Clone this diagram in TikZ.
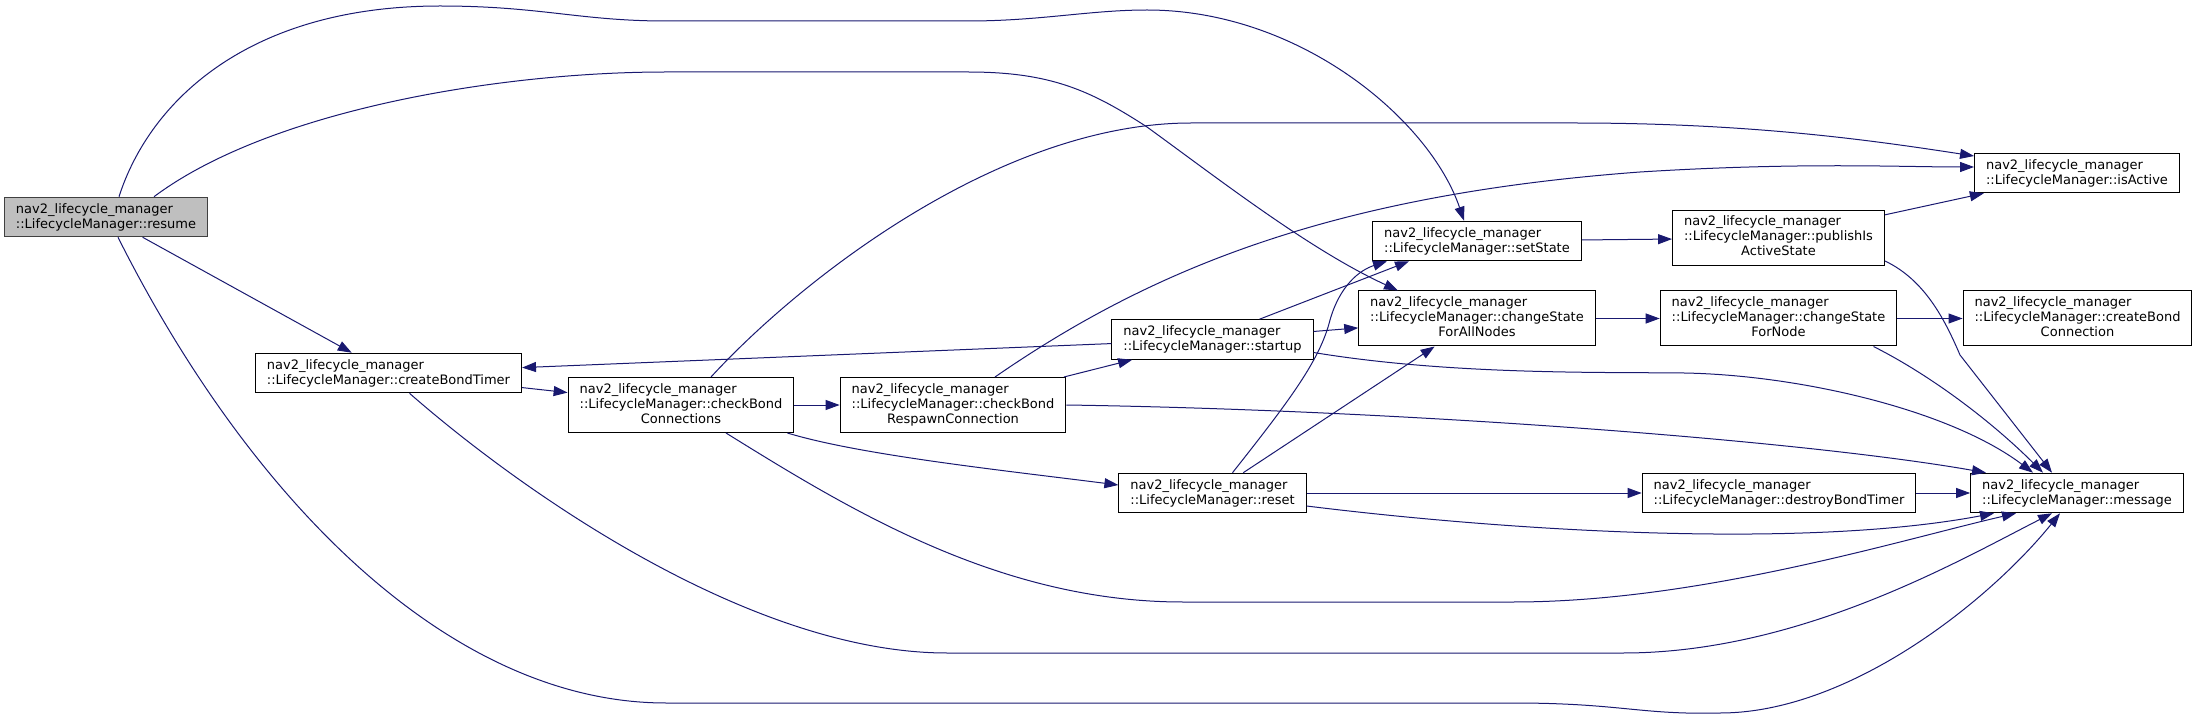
\documentclass[tikz,border=0pt]{standalone}
\usepackage{fontspec}
\setmainfont{DejaVu Sans}
\usetikzlibrary{arrows.meta}
\definecolor{edgeblue}{HTML}{191970}

\begin{document}
\begin{tikzpicture}[x=1pt,y=-1pt,
  fnbox/.style={draw=black,fill=white,line width=1pt,align=left,inner xsep=11.5pt,inner ysep=6pt,font=\fontsize{13}{15}\selectfont},
  longbox/.style={fnbox,inner xsep=5.5pt,inner ysep=5pt},
  curbox/.style={fnbox,draw=black!75,fill=black!25},
  calledge/.style={draw=edgeblue,line width=1pt,-{Triangle[length=14pt,width=10pt]}}]
\useasboundingbox (0,0) rectangle (2196,719);

\node [curbox] at (106,217) (A) {nav2\_lifecycle\_manager\\::LifecycleManager::resume};
\node [fnbox] at (388.5,373) (B) {nav2\_lifecycle\_manager\\::LifecycleManager::createBondTimer};
\node [longbox] at (681,405) (C) {\begin{tabular}{l}nav2\_lifecycle\_manager\\::LifecycleManager::checkBond\\\multicolumn{1}{c}{Connections}\end{tabular}};
\node [longbox] at (953,405) (D) {\begin{tabular}{l}nav2\_lifecycle\_manager\\::LifecycleManager::checkBond\\\multicolumn{1}{c}{RespawnConnection}\end{tabular}};
\node [fnbox] at (1212.5,339.5) (E) {nav2\_lifecycle\_manager\\::LifecycleManager::startup};
\node [fnbox] at (1212.5,493) (F) {nav2\_lifecycle\_manager\\::LifecycleManager::reset};
\node [fnbox] at (1477,241) (G) {nav2\_lifecycle\_manager\\::LifecycleManager::setState};
\node [longbox] at (1477,318.5) (H) {\begin{tabular}{l}nav2\_lifecycle\_manager\\::LifecycleManager::changeState\\\multicolumn{1}{c}{ForAllNodes}\end{tabular}};
\node [longbox] at (1778.5,238) (I) {\begin{tabular}{l}nav2\_lifecycle\_manager\\::LifecycleManager::publishIs\\\multicolumn{1}{c}{ActiveState}\end{tabular}};
\node [longbox] at (1778.5,318.5) (J) {\begin{tabular}{l}nav2\_lifecycle\_manager\\::LifecycleManager::changeState\\\multicolumn{1}{c}{ForNode}\end{tabular}};
\node [fnbox] at (1779,493) (K) {nav2\_lifecycle\_manager\\::LifecycleManager::destroyBondTimer};
\node [fnbox] at (2077,173) (L) {nav2\_lifecycle\_manager\\::LifecycleManager::isActive};
\node [longbox] at (2077.5,318.5) (M) {\begin{tabular}{l}nav2\_lifecycle\_manager\\::LifecycleManager::createBond\\\multicolumn{1}{c}{Connection}\end{tabular}};
\node [fnbox] at (2077,493) (N) {nav2\_lifecycle\_manager\\::LifecycleManager::message};

% straight calls
\draw [calledge] (A) -- (B);
\draw [calledge] (B) -- (C);
\draw [calledge] (C) -- (D);
\draw [calledge] (D) -- (E);
\draw [calledge] (E) -- (B);
\draw [calledge] (E) -- (H);
\draw [calledge] ([xshift=47]E.north) -- ([xshift=-68]G.south);
\draw [calledge] (F) -- (H);
\draw [calledge] (F) -- (K);
\draw [calledge] (K) -- (N);
\draw [calledge] (G) -- (I);
\draw [calledge] (I) -- (L);
\draw [calledge] (H) -- (J);
\draw [calledge] (J) -- (M);

% long calls
\draw [calledge] ([xshift=13]A.north) .. controls (150,100) and (250,6) .. (440,6)
  .. controls (540,6) and (580,21) .. (666,21) -- (968,21)
  .. controls (1040,21) and (1090,10) .. (1147,10)
  .. controls (1300,10) and (1430,120) .. ([xshift=-13]G.north);
\draw [calledge] ([xshift=48]A.north) .. controls (270,110) and (500,72) .. (666,72) -- (968,72)
  .. controls (1050,72) and (1090,90) .. (1147,127)
  .. controls (1220,180) and (1310,250) .. ([xshift=-79]H.north);
\draw [calledge] ([xshift=12]A.south) .. controls (250,500) and (450,703) .. (666,703) -- (1513,703)
  .. controls (1620,703) and (1640,715) .. (1720,713)
  .. controls (1850,713) and (1990,600) .. ([xshift=-17]N.south);
\draw [calledge] ([xshift=21]B.south) .. controls (520,490) and (750,653) .. (947,653) -- (1623,653)
  .. controls (1800,653) and (1960,560) .. ([xshift=-25]N.south);
\draw [calledge] ([xshift=30]C.north) .. controls (800,280) and (1000,123) .. (1191,123) -- (1574,123)
  .. controls (1750,123) and (1870,140) .. ([yshift=17]L.west);
\draw [calledge] ([xshift=45]C.south) .. controls (850,510) and (1000,602) .. (1183,602) -- (1513,602)
  .. controls (1700,602) and (1900,540) .. ([xshift=-61]N.south);
\draw [calledge] ([xshift=-7]C.south east) .. controls (860,455) and (1000,470) .. ([yshift=8]F.west);
\draw [calledge] ([xshift=42]D.north) .. controls (1150,270) and (1330,195) .. (1640,172)
  .. controls (1800,162) and (1900,167) .. ([yshift=6]L.west);
\draw [calledge] (D.east) .. controls (1400,410) and (1800,440) .. ([xshift=-91]N.north);
\draw [calledge] ([yshift=-13]E.east) .. controls (1450,375) and (1600,372) .. (1684,373)
  .. controls (1800,375) and (1950,410) .. ([xshift=-44]N.north);
\draw [calledge] ([xshift=20]F.north) .. controls (1290,400) and (1320,360) .. (1330,320)
  .. controls (1340,285) and (1360,270) .. ([xshift=-90]G.south);
\draw [calledge] ([yshift=-13]F.east) .. controls (1500,530) and (1800,550) .. ([xshift=-83]N.south);
\draw [calledge] ([yshift=-23]I.east) .. controls (1925,280) and (1945,320) .. (1960,355) -- ([xshift=-25]N.north);
\draw [calledge] ([xshift=95]J.south) .. controls (1930,375) and (1990,420) .. ([xshift=-34]N.north);
\end{tikzpicture}
\end{document}
